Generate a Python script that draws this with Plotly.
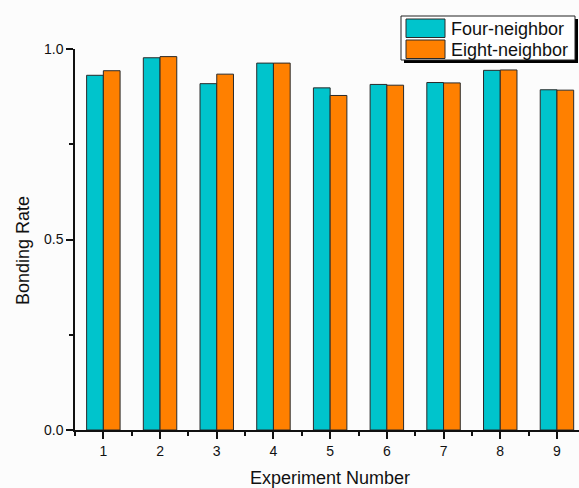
import plotly.graph_objects as go

# Bonding rate per experiment for the two connectivity rules
experiments = [1, 2, 3, 4, 5, 6, 7, 8, 9]
four_neighbor = [0.931, 0.977, 0.909, 0.963, 0.898, 0.907, 0.912, 0.944, 0.893]
eight_neighbor = [0.943, 0.980, 0.934, 0.963, 0.878, 0.905, 0.911, 0.945, 0.892]
series_names = ["Four-neighbor", "Eight-neighbor"]
y_tick_vals = [0.0, 0.5, 1.0]
y_tick_text = ["0.0", "0.5", "1.0"]

CYAN = "#00C4CC"
ORANGE = "#FF8000"
EDGE = "#2a2a2a"
FONT = "Liberation Sans, Arial, sans-serif"

fig = go.Figure()
for name, vals, color in zip(series_names, [four_neighbor, eight_neighbor], [CYAN, ORANGE]):
    fig.add_trace(go.Bar(
        x=experiments, y=vals, name=name,
        marker=dict(color=color, line=dict(color=EDGE, width=1)),
        showlegend=False,
    ))

W, H = 579, 488
L, R, T, B = 75, 0, 49, 58
pw, ph = W - L - R, H - T - B


def px_x(px):
    return (px - L) / pw


def px_y(py):
    return (H - B - py) / ph


# Legend box with drop shadow, coloured swatches and labels
shapes = [
    dict(type="rect", xref="paper", yref="paper",
         x0=px_x(404), x1=px_x(578), y0=px_y(63), y1=px_y(19),
         fillcolor="#000000", line=dict(width=0), layer="above"),
    dict(type="rect", xref="paper", yref="paper",
         x0=px_x(401), x1=px_x(575), y0=px_y(60), y1=px_y(16),
         fillcolor="#ffffff", line=dict(color="#222222", width=1), layer="above"),
]
annotations = []
for i, (name, color) in enumerate(zip(series_names, [CYAN, ORANGE])):
    top = 19 + i * 21
    shapes.append(dict(type="rect", xref="paper", yref="paper",
                       x0=px_x(406), x1=px_x(445), y0=px_y(top + 18.5), y1=px_y(top),
                       fillcolor=color, line=dict(color=EDGE, width=1), layer="above"))
    annotations.append(dict(xref="paper", yref="paper", x=px_x(449), y=px_y(top + 9.5),
                            text=name, showarrow=False, xanchor="left", yanchor="middle",
                            font=dict(family=FONT, size=18, color="#111111")))

# Axis titles
annotations.append(dict(xref="paper", yref="paper", x=px_x(330), y=px_y(478),
                        text="Experiment Number", showarrow=False,
                        xanchor="center", yanchor="middle",
                        font=dict(family=FONT, size=18, color="#111111")))
annotations.append(dict(xref="paper", yref="paper", x=px_x(23), y=px_y(251),
                        text="Bonding Rate", showarrow=False, textangle=-90,
                        xanchor="center", yanchor="middle",
                        font=dict(family=FONT, size=18, color="#111111")))

fig.update_layout(
    width=W, height=H,
    margin=dict(l=L, r=R, t=T, b=B, pad=0),
    paper_bgcolor="#fcfcfc", plot_bgcolor="#fcfcfc",
    barmode="group", bargap=0.41, bargroupgap=0,
    shapes=shapes, annotations=annotations,
    font=dict(family=FONT, size=14, color="#111111"),
    xaxis=dict(
        range=[0.5, 0.5 + pw / 56.7],
        tickmode="linear", tick0=1, dtick=1,
        ticks="outside", ticklen=7, tickwidth=1.5, tickcolor="#111111",
        minor=dict(ticks="outside", ticklen=4, tickwidth=1.5, tickcolor="#111111",
                   tick0=0.5, dtick=0.5),
        showline=True, linecolor="#111111", linewidth=1.5,
        showgrid=False, zeroline=False,
        tickfont=dict(family=FONT, size=14, color="#111111"),
        fixedrange=True,
    ),
    yaxis=dict(
        range=[0, 1.0],
        tickmode="array", tickvals=y_tick_vals, ticktext=y_tick_text,
        ticks="outside", ticklen=7, tickwidth=1.5, tickcolor="#111111",
        minor=dict(ticks="outside", ticklen=4, tickwidth=1.5, tickcolor="#111111",
                   tickmode="array", tickvals=[0.25, 0.75]),
        showline=True, linecolor="#111111", linewidth=1.5,
        showgrid=False, zeroline=False,
        tickfont=dict(family=FONT, size=14, color="#111111"),
        fixedrange=True,
    ),
)

fig.write_html("out.html", config={"displayModeBar": False})
